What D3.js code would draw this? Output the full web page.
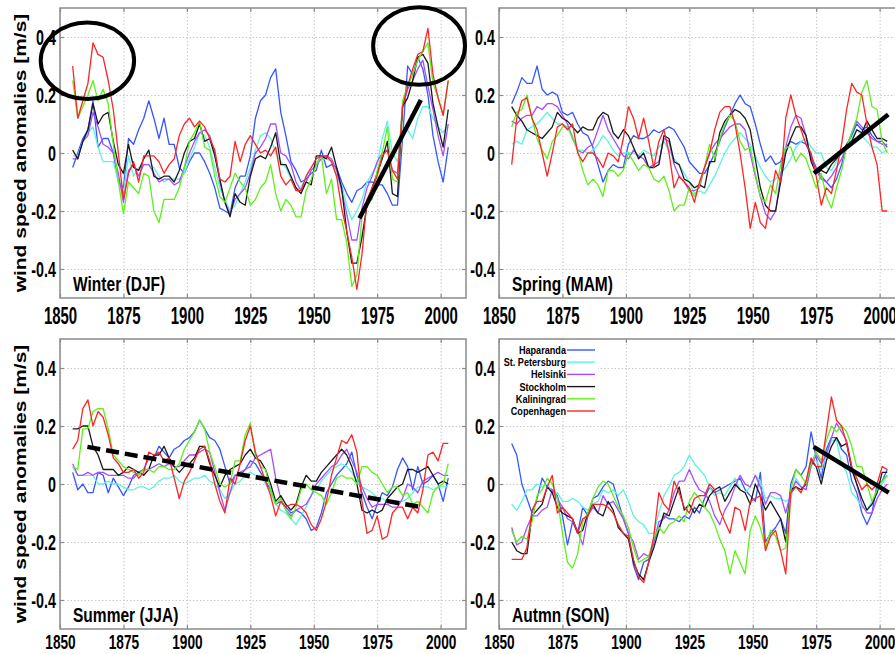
<!DOCTYPE html>
<html>
<head>
<meta charset="utf-8">
<script src="https://cdnjs.cloudflare.com/ajax/libs/d3/7.8.5/d3.min.js"></script>
<style>
	body { margin: 0; background: #ffffff; }
	svg text { font-family: "Liberation Sans", Arial, sans-serif; font-weight: bold; fill: #000000; }
</style>
</head>
<body>
<div id="containerChart"></div>
<script>

// years of the smoothed series (read every second year)
var years = [1855, 1857, 1859, 1861, 1863, 1865, 1867, 1869, 1871, 1873,
	1875, 1877, 1879, 1881, 1883, 1885, 1887, 1889, 1891, 1893,
	1895, 1897, 1899, 1901, 1903, 1905, 1907, 1909, 1911, 1913,
	1915, 1917, 1919, 1921, 1923, 1925, 1927, 1929, 1931, 1933,
	1935, 1937, 1939, 1941, 1943, 1945, 1947, 1949, 1951, 1953,
	1955, 1957, 1959, 1961, 1963, 1965, 1967, 1969, 1971, 1973,
	1975, 1977, 1979, 1981, 1983, 1985, 1987, 1989, 1991, 1993,
	1995, 1997, 1999, 2001, 2003];

var stations = ["Haparanda", "St. Petersburg", "Helsinki", "Stockholm", "Kaliningrad", "Copenhagen"];
var seasons = ["Winter (DJF)", "Spring (MAM)", "Summer (JJA)", "Autmn (SON)"];
var xTickValues = [1850, 1875, 1900, 1925, 1950, 1975, 2000];
var yTickValues = [-0.4, -0.2, 0, 0.2, 0.4];
var yTickLabels = ["-0.4", "-0.2", "0", "0.2", "0.4"];

// winter (DJF) anomalies [m/s]
var winterHaparanda = [-0.05, 0.00, 0.05, 0.08, 0.18, 0.02, 0.05, 0.05, 0.00, -0.10,
	-0.12, 0.05, 0.03, 0.08, 0.12, 0.18, 0.12, 0.05, 0.12, 0.03,
	0.03, -0.05, -0.07, -0.03, 0.00, 0.00, -0.03, -0.07, -0.12, -0.19,
	-0.20, -0.21, -0.12, -0.08, -0.08, -0.01, 0.12, 0.18, 0.20, 0.26,
	0.29, 0.14, 0.06, -0.03, -0.06, -0.10, -0.09, -0.07, -0.06, 0.01,
	-0.05, -0.04, -0.05, -0.10, -0.14, -0.17, -0.13, -0.12, -0.10, -0.10,
	-0.11, -0.11, -0.14, -0.18, -0.18, 0.05, 0.30, 0.27, 0.33, 0.29,
	0.20, 0.06, -0.03, -0.10, 0.02];
var winterStPetersburg = [-0.01, -0.01, 0.04, 0.07, 0.09, 0.02, -0.03, -0.03, -0.03, -0.10,
	-0.14, -0.01, -0.08, -0.05, -0.04, -0.04, -0.05, -0.08, -0.10, -0.09,
	-0.09, -0.09, -0.07, -0.02, 0.02, 0.07, 0.06, 0.02, -0.05, -0.12,
	-0.16, -0.20, -0.18, -0.14, -0.10, -0.05, 0.01, 0.06, 0.07, 0.05,
	0.00, -0.03, -0.05, -0.09, -0.13, -0.12, -0.08, -0.05, -0.03, -0.02,
	-0.02, -0.03, -0.08, -0.11, -0.18, -0.23, -0.20, -0.16, -0.10, -0.07,
	-0.04, 0.05, 0.11, 0.00, -0.03, 0.06, 0.08, 0.05, 0.12, 0.16,
	0.16, 0.12, 0.09, 0.07, 0.10];
var winterHelsinki = [-0.02, -0.02, 0.04, 0.06, 0.14, 0.09, 0.03, 0.02, 0.00, -0.07,
	-0.17, -0.06, -0.04, -0.08, -0.04, -0.04, -0.07, -0.10, -0.09, -0.09,
	-0.11, -0.10, -0.05, 0.00, 0.04, 0.07, 0.08, 0.06, 0.00, -0.10,
	-0.17, -0.21, -0.16, -0.14, -0.12, -0.07, 0.00, 0.02, 0.05, 0.10,
	0.10, 0.00, -0.01, -0.04, -0.10, -0.13, -0.10, -0.06, -0.04, -0.02,
	-0.01, -0.02, -0.06, -0.13, -0.21, -0.30, -0.30, -0.19, -0.12, -0.08,
	-0.03, 0.00, 0.01, -0.06, -0.07, 0.16, 0.22, 0.25, 0.29, 0.32,
	0.23, 0.15, 0.06, -0.01, 0.10];
var winterStockholm = [0.01, -0.02, 0.04, 0.08, 0.17, 0.10, 0.13, 0.14, 0.04, -0.04,
	-0.07, 0.03, -0.05, -0.06, -0.02, 0.01, -0.08, -0.09, -0.08, -0.08,
	-0.10, -0.06, 0.00, 0.04, 0.05, 0.10, 0.04, 0.05, -0.01, -0.09,
	-0.17, -0.22, -0.14, -0.17, -0.18, -0.08, -0.02, -0.01, -0.02, 0.02,
	0.07, -0.04, -0.04, -0.08, -0.12, -0.14, -0.10, -0.11, -0.01, -0.01,
	-0.02, 0.02, -0.05, -0.12, -0.27, -0.38, -0.38, -0.29, -0.18, -0.12,
	-0.07, -0.02, 0.04, -0.14, -0.15, 0.16, 0.19, 0.25, 0.33, 0.34,
	0.31, 0.17, 0.09, 0.02, 0.15];
var winterKaliningrad = [0.25, 0.12, 0.16, 0.20, 0.25, 0.18, 0.22, 0.17, 0.03, -0.10,
	-0.21, -0.10, -0.12, -0.14, -0.07, -0.08, -0.20, -0.24, -0.16, -0.16,
	-0.16, -0.12, -0.05, 0.04, 0.07, 0.11, 0.02, 0.01, -0.08, -0.15,
	-0.17, -0.12, -0.07, -0.10, -0.12, -0.18, -0.16, -0.12, -0.10, -0.04,
	-0.14, -0.20, -0.16, -0.18, -0.22, -0.22, -0.13, -0.09, -0.04, -0.01,
	-0.14, -0.09, -0.23, -0.23, -0.31, -0.46, -0.42, -0.22, -0.17, -0.16,
	-0.06, 0.00, 0.09, -0.09, -0.10, 0.18, 0.23, 0.27, 0.32, 0.35,
	0.38, 0.24, 0.19, 0.13, 0.25];
var winterCopenhagen = [0.30, 0.12, 0.18, 0.24, 0.38, 0.34, 0.33, 0.25, 0.15, 0.00,
	-0.16, -0.07, -0.03, -0.10, -0.01, -0.01, -0.01, -0.03, -0.07, -0.04,
	-0.02, 0.06, 0.10, 0.12, 0.09, 0.11, 0.09, 0.05, 0.01, -0.09,
	-0.10, -0.08, 0.04, -0.03, 0.03, 0.06, 0.03, 0.00, 0.01, -0.01,
	0.02, -0.08, -0.11, -0.09, -0.13, -0.13, -0.08, -0.05, -0.02, -0.01,
	-0.01, -0.03, -0.08, -0.19, -0.27, -0.36, -0.47, -0.35, -0.16, -0.12,
	-0.08, -0.01, 0.01, -0.06, -0.09, 0.16, 0.23, 0.29, 0.34, 0.35,
	0.43, 0.27, 0.19, 0.13, 0.25];

// spring (MAM)
var springHaparanda = [0.17, 0.21, 0.26, 0.24, 0.24, 0.30, 0.22, 0.20, 0.21, 0.20,
	0.14, 0.13, 0.14, 0.10, 0.07, 0.06, 0.02, -0.04, -0.10, -0.06,
	-0.04, -0.05, -0.05, 0.03, 0.06, 0.05, 0.05, 0.06, 0.08, 0.07,
	0.08, 0.09, 0.08, 0.05, 0.02, -0.03, -0.05, -0.07, -0.07, -0.04,
	0.00, 0.04, 0.09, 0.13, 0.17, 0.20, 0.17, 0.16, 0.10, 0.03,
	-0.03, -0.01, -0.04, -0.03, 0.02, 0.04, 0.03, 0.04, 0.03, -0.01,
	-0.05, -0.08, -0.10, -0.12, -0.09, -0.04, 0.03, 0.06, 0.10, 0.08,
	0.09, 0.06, 0.04, 0.04, 0.02];
var springStPetersburg = [0.03, 0.04, 0.03, 0.08, 0.09, 0.10, 0.12, 0.14, 0.12, 0.10,
	0.10, 0.09, 0.06, 0.01, 0.01, 0.00, 0.01, 0.03, 0.06, 0.04,
	0.01, -0.01, 0.00, 0.00, 0.00, -0.01, 0.01, 0.00, -0.01, 0.02,
	0.04, 0.01, -0.02, -0.04, -0.07, -0.10, -0.14, -0.13, -0.14, -0.11,
	-0.08, -0.04, 0.00, 0.03, 0.05, 0.07, 0.05, 0.03, -0.01, -0.05,
	-0.08, -0.10, -0.09, -0.07, -0.05, -0.02, 0.02, 0.04, 0.05, 0.02,
	0.00, 0.00, -0.05, -0.06, -0.03, 0.00, 0.02, 0.05, 0.08, 0.06,
	0.04, 0.02, 0.02, 0.00, 0.01];
var springHelsinki = [0.11, 0.10, 0.12, 0.13, 0.13, 0.16, 0.15, 0.17, 0.17, 0.16,
	0.13, 0.10, 0.05, 0.01, 0.00, 0.02, 0.03, 0.08, 0.13, 0.08,
	0.05, 0.02, -0.01, -0.02, 0.01, -0.01, -0.02, -0.05, -0.04, -0.03,
	0.05, 0.04, -0.04, -0.08, -0.10, -0.13, -0.13, -0.12, -0.05, 0.00,
	0.03, 0.05, 0.07, 0.09, 0.10, 0.10, 0.08, 0.00, -0.08, -0.15,
	-0.21, -0.23, -0.20, -0.08, 0.02, 0.09, 0.13, 0.12, 0.06, -0.02,
	-0.06, -0.09, -0.10, -0.08, -0.05, -0.02, 0.02, 0.07, 0.11, 0.09,
	0.07, 0.05, 0.04, 0.03, 0.03];
var springStockholm = [0.16, 0.13, 0.11, 0.08, 0.07, 0.06, 0.05, 0.07, 0.09, 0.14,
	0.12, 0.11, 0.09, 0.07, 0.09, 0.08, 0.08, 0.12, 0.14, 0.13,
	0.07, 0.05, 0.08, 0.06, 0.02, -0.02, 0.00, -0.05, -0.05, -0.04,
	0.06, 0.05, -0.03, -0.04, -0.09, -0.10, -0.12, -0.11, -0.12, -0.03,
	-0.03, 0.07, 0.11, 0.13, 0.15, 0.14, 0.12, 0.08, -0.02, -0.12,
	-0.18, -0.20, -0.20, -0.10, 0.00, 0.05, 0.09, 0.09, 0.06, -0.03,
	-0.07, -0.06, -0.07, -0.04, -0.02, 0.00, 0.03, 0.04, 0.08, 0.07,
	0.11, 0.08, 0.05, 0.05, 0.04];
var springKaliningrad = [0.09, 0.14, 0.15, 0.20, 0.12, 0.05, 0.01, -0.02, 0.04, 0.06,
	0.09, 0.09, 0.05, 0.01, -0.06, -0.11, -0.09, -0.11, -0.15, -0.06,
	-0.06, -0.08, -0.06, 0.00, -0.03, -0.06, -0.04, -0.05, -0.09, -0.10,
	-0.08, -0.13, -0.20, -0.18, -0.18, -0.12, -0.15, -0.11, -0.05, 0.03,
	-0.02, 0.05, 0.10, 0.13, 0.11, 0.04, 0.01, 0.02, -0.07, -0.15,
	-0.17, -0.11, -0.14, -0.04, 0.02, 0.02, -0.03, 0.00, -0.02, -0.07,
	-0.12, -0.07, -0.15, -0.19, -0.12, -0.06, 0.02, 0.07, 0.12, 0.21,
	0.25, 0.16, 0.15, 0.04, 0.00];
var springCopenhagen = [-0.04, 0.12, 0.18, 0.19, 0.12, 0.08, 0.00, -0.08, 0.00, 0.09,
	0.10, 0.08, 0.10, 0.00, -0.03, 0.00, 0.00, -0.02, -0.05, 0.00,
	-0.01, -0.03, 0.05, 0.16, 0.12, 0.05, 0.12, 0.04, -0.05, 0.04,
	0.08, 0.00, -0.12, -0.08, -0.10, -0.12, -0.17, -0.10, -0.05, 0.00,
	0.08, 0.14, 0.16, 0.16, 0.10, 0.00, -0.12, -0.26, -0.17, -0.24,
	-0.26, -0.16, -0.06, -0.10, 0.12, 0.20, 0.13, 0.08, 0.03, 0.00,
	-0.08, -0.18, -0.12, -0.14, -0.06, 0.03, 0.15, 0.24, 0.21, 0.20,
	0.10, 0.02, -0.04, -0.20, -0.20];

// summer (JJA)
var summerHaparanda = [0.04, -0.02, 0.00, -0.03, -0.03, 0.04, 0.03, -0.03, 0.02, -0.01,
	-0.04, -0.01, 0.03, 0.04, 0.05, 0.09, 0.09, 0.13, 0.11, 0.09,
	0.12, 0.13, 0.15, 0.16, 0.18, 0.22, 0.19, 0.16, 0.15, 0.12,
	0.06, 0.00, 0.03, 0.03, 0.05, 0.08, 0.07, 0.04, 0.01, -0.02,
	-0.07, -0.06, -0.08, -0.10, -0.09, -0.10, -0.12, -0.16, -0.15, -0.10,
	-0.03, 0.00, 0.03, 0.05, 0.07, 0.11, 0.03, -0.03, -0.08, -0.12,
	-0.07, -0.03, -0.04, -0.01, 0.05, 0.09, 0.06, -0.02, 0.06, 0.00,
	0.01, 0.03, 0.00, -0.06, 0.02];
var summerStPetersburg = [0.06, 0.03, 0.03, 0.03, 0.03, 0.00, 0.00, 0.01, 0.00, 0.00,
	-0.01, -0.02, -0.02, -0.01, -0.01, -0.02, -0.01, 0.01, 0.02, 0.02,
	0.03, 0.01, 0.00, 0.01, 0.02, 0.02, 0.03, 0.01, 0.00, -0.02,
	-0.05, -0.03, 0.00, 0.01, 0.03, 0.04, 0.03, 0.03, 0.00, -0.03,
	-0.07, -0.09, -0.10, -0.12, -0.14, -0.11, -0.08, -0.04, -0.02, 0.01,
	0.03, 0.05, 0.06, 0.07, 0.06, 0.04, 0.01, -0.01, -0.02, -0.03,
	-0.05, -0.05, -0.06, -0.06, -0.06, -0.06, -0.05, -0.03, -0.01, -0.01,
	-0.01, -0.02, -0.01, -0.01, -0.01];
var summerHelsinki = [0.07, 0.03, 0.03, 0.04, 0.03, 0.04, 0.04, 0.03, 0.03, 0.03,
	0.03, 0.02, 0.02, 0.04, 0.05, 0.05, 0.06, 0.07, 0.06, 0.07,
	0.06, 0.06, 0.08, 0.10, 0.10, 0.11, 0.12, 0.11, 0.04, -0.03,
	-0.09, -0.03, 0.03, 0.04, 0.05, 0.06, 0.09, 0.10, 0.11, 0.12,
	0.02, -0.05, -0.09, -0.11, -0.09, -0.08, -0.07, -0.04, 0.00, 0.02,
	0.04, 0.06, 0.07, 0.10, 0.12, 0.08, 0.04, -0.01, -0.05, -0.08,
	-0.07, -0.07, -0.07, -0.08, -0.08, -0.05, 0.00, -0.01, -0.03, 0.01,
	0.02, 0.03, 0.04, 0.03, 0.03];
var summerStockholm = [0.19, 0.19, 0.20, 0.20, 0.13, 0.10, 0.05, 0.05, 0.05, 0.03,
	0.04, 0.06, 0.05, 0.04, 0.03, 0.05, 0.10, 0.10, 0.13, 0.09,
	0.06, 0.04, 0.06, 0.07, 0.09, 0.13, 0.13, 0.07, 0.03, -0.01,
	0.03, 0.05, 0.06, 0.07, 0.10, 0.12, 0.09, 0.08, 0.05, 0.00,
	-0.06, -0.04, -0.07, -0.09, -0.07, -0.01, 0.03, 0.01, 0.01, 0.04,
	0.06, 0.08, 0.10, 0.12, 0.10, 0.06, 0.00, -0.09, -0.10, -0.09,
	-0.10, -0.09, -0.05, -0.03, -0.01, 0.00, 0.05, 0.05, 0.04, 0.05,
	0.06, 0.03, 0.00, 0.01, 0.00];
var summerKaliningrad = [0.06, 0.05, 0.19, 0.19, 0.25, 0.26, 0.26, 0.19, 0.10, 0.08,
	0.06, 0.05, 0.04, 0.03, 0.05, 0.05, 0.04, 0.06, 0.06, 0.05,
	0.05, 0.07, 0.12, 0.15, 0.18, 0.22, 0.19, 0.11, 0.06, 0.00,
	-0.01, 0.00, 0.08, 0.08, 0.17, 0.21, 0.10, 0.06, 0.05, -0.02,
	-0.07, -0.05, -0.09, -0.12, -0.08, -0.02, 0.00, -0.02, -0.03, -0.04,
	-0.07, -0.03, 0.02, 0.03, 0.02, 0.02, 0.00, 0.06, 0.06, 0.04,
	0.03, 0.00, -0.03, -0.01, -0.01, -0.04, -0.03, -0.07, -0.06, -0.08,
	-0.10, -0.03, -0.01, 0.00, 0.07];
var summerCopenhagen = [0.12, 0.15, 0.26, 0.29, 0.20, 0.25, 0.23, 0.17, 0.09, 0.07,
	0.04, 0.04, 0.05, 0.02, 0.04, 0.11, 0.10, 0.11, 0.08, 0.09,
	0.02, -0.05, 0.01, 0.04, 0.08, 0.12, 0.13, 0.08, 0.00, -0.06,
	-0.10, 0.02, 0.00, 0.07, 0.15, 0.20, 0.11, 0.06, 0.01, -0.04,
	-0.11, -0.06, -0.08, -0.07, -0.07, -0.08, -0.10, -0.14, -0.16, -0.12,
	-0.06, 0.03, 0.09, 0.15, 0.14, 0.17, 0.11, -0.06, -0.17, -0.16,
	-0.11, -0.19, -0.18, -0.10, -0.08, -0.08, -0.12, -0.08, -0.10, -0.02,
	0.10, 0.11, 0.08, 0.14, 0.14];

// autumn (SON)
var autumnHaparanda = [0.14, 0.10, 0.00, -0.05, -0.10, -0.05, 0.02, -0.01, -0.02, -0.04,
	-0.11, -0.21, -0.13, -0.17, -0.08, -0.11, -0.05, -0.04, -0.01, 0.01,
	0.00, -0.06, -0.12, -0.17, -0.28, -0.33, -0.27, -0.26, -0.20, -0.15,
	-0.11, -0.12, -0.12, -0.13, -0.11, -0.12, -0.08, -0.10, -0.05, -0.01,
	-0.03, -0.02, -0.01, 0.00, 0.01, 0.02, -0.02, -0.04, -0.06, 0.04,
	-0.20, -0.17, -0.15, -0.12, -0.17, 0.00, 0.05, 0.03, 0.06, 0.18,
	0.09, 0.02, 0.12, 0.16, 0.16, 0.12, 0.10, 0.01, -0.03, -0.10,
	-0.14, -0.10, 0.00, 0.01, 0.05];
var autumnStPetersburg = [-0.07, -0.09, -0.06, -0.02, -0.02, 0.00, -0.01, 0.00, -0.03, -0.03,
	-0.06, -0.06, -0.05, -0.06, -0.08, -0.09, -0.07, -0.06, -0.02, -0.03,
	-0.02, -0.04, -0.02, -0.06, -0.11, -0.13, -0.14, -0.17, -0.17, -0.10,
	-0.04, -0.01, 0.03, 0.04, 0.06, 0.10, 0.07, 0.05, 0.03, -0.01,
	-0.04, -0.03, -0.04, -0.01, 0.02, -0.02, -0.03, -0.01, 0.03, 0.01,
	-0.05, -0.04, -0.05, -0.05, -0.06, -0.05, 0.02, -0.01, -0.02, 0.08,
	0.08, 0.05, 0.10, 0.15, 0.15, 0.07, 0.04, -0.03, -0.05, -0.08,
	-0.09, -0.06, -0.03, 0.00, 0.03];
var autumnHelsinki = [-0.15, -0.21, -0.20, -0.15, -0.11, -0.11, -0.09, -0.08, -0.02, -0.05,
	-0.08, -0.12, -0.13, -0.16, -0.21, -0.11, -0.08, -0.10, -0.04, -0.07,
	-0.06, -0.09, -0.12, -0.17, -0.20, -0.26, -0.24, -0.25, -0.20, -0.13,
	-0.12, -0.09, -0.03, 0.01, 0.01, 0.05, 0.01, -0.02, -0.03, -0.06,
	-0.11, -0.14, -0.09, -0.06, -0.01, 0.03, 0.00, -0.01, 0.03, -0.01,
	-0.07, -0.03, -0.03, -0.04, -0.10, -0.03, 0.01, -0.01, -0.02, 0.06,
	0.10, 0.07, 0.10, 0.16, 0.21, 0.18, 0.15, 0.06, 0.00, -0.07,
	-0.10, -0.10, -0.05, -0.02, 0.00];
var autumnStockholm = [-0.20, -0.23, -0.24, -0.24, -0.11, -0.09, -0.07, -0.01, -0.03, -0.08,
	-0.10, -0.11, -0.12, -0.17, -0.16, -0.10, -0.07, -0.10, -0.11, -0.06,
	-0.09, -0.15, -0.17, -0.19, -0.27, -0.31, -0.33, -0.27, -0.22, -0.16,
	-0.10, -0.11, -0.06, -0.01, -0.09, -0.07, -0.10, -0.07, -0.08, -0.04,
	-0.02, -0.01, -0.06, -0.03, 0.00, -0.02, -0.03, -0.07, 0.00, -0.04,
	-0.09, -0.06, -0.09, -0.12, -0.20, -0.02, -0.01, -0.02, 0.00, 0.08,
	0.06, 0.00, 0.08, 0.13, 0.16, 0.13, 0.14, 0.05, 0.00, -0.05,
	-0.09, -0.07, -0.03, 0.04, 0.04];
var autumnKaliningrad = [-0.16, -0.20, -0.18, -0.19, -0.13, -0.04, -0.02, 0.02, 0.00, -0.05,
	-0.17, -0.27, -0.29, -0.24, -0.13, -0.10, -0.05, -0.01, 0.01, 0.00,
	-0.04, -0.08, -0.11, -0.15, -0.22, -0.27, -0.26, -0.25, -0.19, -0.15,
	-0.17, -0.14, -0.13, -0.11, -0.13, -0.06, -0.03, -0.05, -0.08, -0.10,
	-0.14, -0.19, -0.23, -0.31, -0.23, -0.27, -0.31, -0.16, -0.11, -0.15,
	-0.22, -0.16, -0.18, -0.23, -0.22, -0.02, 0.05, 0.03, 0.00, 0.07,
	0.11, 0.08, 0.15, 0.20, 0.18, 0.20, 0.18, 0.13, 0.06, 0.06,
	0.00, -0.06, -0.02, 0.01, 0.03];
var autumnCopenhagen = [-0.26, -0.26, -0.26, -0.22, -0.09, -0.06, -0.06, -0.01, 0.03, -0.10,
	-0.08, -0.10, -0.12, -0.17, -0.12, -0.11, -0.07, -0.07, -0.07, -0.08,
	-0.10, -0.14, -0.17, -0.18, -0.26, -0.32, -0.34, -0.27, -0.18, -0.03,
	-0.07, -0.09, 0.01, -0.03, -0.08, -0.10, -0.05, -0.04, -0.04, 0.00,
	-0.02, -0.09, -0.13, -0.17, -0.08, -0.09, -0.16, -0.06, -0.05, -0.04,
	-0.23, -0.18, -0.16, -0.23, -0.31, -0.03, -0.01, -0.03, 0.01, 0.09,
	0.06, 0.06, 0.18, 0.30, 0.22, 0.20, 0.14, 0.06, 0.02, -0.02,
	0.00, -0.02, 0.00, 0.06, 0.05];

// trend lines drawn over the panels: [year, anomaly] at both ends
var winterTrend = [[1968.0, -0.225], [1992.2, 0.183]];
var springTrend = [[1974.1, -0.070], [2003.4, 0.133]];
var summerTrend = [[1860.8, 0.128], [1991.9, -0.079]];
var autumnTrend = [[1974.0, 0.128], [2003.6, -0.030]];

// circled periods in winter: centre year, centre anomaly, half width (years), half height (m/s)
var winterCircles = [[1860.8, 0.318, 18.4, 0.132], [1991.5, 0.369, 18.1, 0.134]];

var seasonData = [
	[winterHaparanda, winterStPetersburg, winterHelsinki, winterStockholm, winterKaliningrad, winterCopenhagen],
	[springHaparanda, springStPetersburg, springHelsinki, springStockholm, springKaliningrad, springCopenhagen],
	[summerHaparanda, summerStPetersburg, summerHelsinki, summerStockholm, summerKaliningrad, summerCopenhagen],
	[autumnHaparanda, autumnStPetersburg, autumnHelsinki, autumnStockholm, autumnKaliningrad, autumnCopenhagen]
];
var seasonTrends = [winterTrend, springTrend, summerTrend, autumnTrend];

// colours per station, same order as stations
var stationColors = ["#3557ff", "#5ef2e0", "#a64dff", "#1a1a1a", "#5ef01a", "#ff2424"];

// characteristics for SVG element
var width = 895;
var height = 654;
var panelWidth = 406;
var panelHeight = 290;
var layout = [{left: 60, top: 8}, {left: 499, top: 8}, {left: 60, top: 339}, {left: 499, top: 339}];

var svg = d3.select("#containerChart")
	.append("svg")
	.attr("width", width)
	.attr("height", height);

// text squeezed sideways like in the original figure
function squeezed(g, x, y, str, size, sx, anchor) {
	return g.append("text")
		.attr("transform", "translate(" + x + "," + y + ") scale(" + sx + ",1)")
		.attr("text-anchor", anchor)
		.style("font-size", size + "px")
		.text(str);
};

// function that draws one season panel
function drawPanel(p) {

	var box = layout[p];
	var g = svg.append("g")
		.attr("transform", "translate(" + box.left + "," + box.top + ")");

	var x = d3.scaleLinear().domain([1850, 2010]).range([0, panelWidth]);
	var y = d3.scaleLinear().domain([-0.5, 0.5]).range([panelHeight, 0]);

	// dotted grid
	g.append("g")
		.attr("class", "grid")
		.attr("transform", "translate(0," + panelHeight + ")")
		.call(d3.axisBottom(x).tickValues(xTickValues).tickSize(-panelHeight).tickFormat(""));
	g.append("g")
		.attr("class", "grid")
		.call(d3.axisLeft(y).tickValues(yTickValues).tickSize(-panelWidth).tickFormat(""));
	g.selectAll(".grid .domain").remove();
	g.selectAll(".grid line")
		.attr("stroke", "#c8c8c8")
		.attr("stroke-width", 1)
		.attr("stroke-dasharray", "1.5,2");

	// clip for the series
	g.append("clipPath")
		.attr("id", "clip" + p)
		.append("rect")
		.attr("width", panelWidth)
		.attr("height", panelHeight);

	var line = d3.line()
		.x(function(d, i) { return x(years[i]); })
		.y(function(d) { return y(d); });

	g.append("g")
		.attr("clip-path", "url(#clip" + p + ")")
		.selectAll("path")
		.data(seasonData[p])
		.enter()
		.append("path")
		.attr("d", line)
		.attr("fill", "none")
		.attr("stroke", function(d, i) { return stationColors[i]; })
		.attr("stroke-width", 1.3)
		.attr("stroke-linejoin", "round");

	// frame and small inner ticks
	g.append("rect")
		.attr("width", panelWidth)
		.attr("height", panelHeight)
		.attr("fill", "none")
		.attr("stroke", "#8a8a8a")
		.attr("stroke-width", 1.5);

	var innerTicks = [
		[d3.axisLeft(y).tickValues(yTickValues), "translate(0,0)"],
		[d3.axisRight(y).tickValues(yTickValues), "translate(" + panelWidth + ",0)"],
		[d3.axisBottom(x).tickValues(xTickValues), "translate(0," + panelHeight + ")"],
		[d3.axisTop(x).tickValues(xTickValues), "translate(0,0)"]
	];
	innerTicks.forEach(function(t) {
		var a = g.append("g")
			.attr("class", "inner")
			.attr("transform", t[1])
			.call(t[0].tickSize(-4).tickFormat(""));
		a.select(".domain").remove();
		a.selectAll("line").attr("stroke", "#8a8a8a").attr("stroke-width", 1.2);
	});

	// tick labels (bottom row sits closer to the frame, the page ends there)
	var sx = 0.65;
	var lowRow = box.top > 100;
	var yAxis = g.append("g")
		.attr("class", "axis")
		.call(d3.axisLeft(y)
			.tickValues(yTickValues)
			.tickFormat(function(d, i) { return yTickLabels[i]; })
			.tickSize(0)
			.tickPadding(4 / sx));
	var xAxis = g.append("g")
		.attr("class", "axis")
		.attr("transform", "translate(0," + panelHeight + ")")
		.call(d3.axisBottom(x)
			.tickValues(xTickValues)
			.tickFormat(d3.format("d"))
			.tickSize(0)
			.tickPadding(lowRow ? 5 : 10));
	g.selectAll(".axis .domain").remove();
	yAxis.attr("font-size", null).attr("font-family", null);
	xAxis.attr("font-size", null).attr("font-family", null);
	yAxis.selectAll("text")
		.style("font-size", "22px")
		.attr("transform", "scale(" + sx + ",1)");
	xAxis.selectAll("text")
		.style("font-size", lowRow ? "21px" : "23px")
		.attr("transform", "scale(" + sx + ",1)");

	// season label
	squeezed(g, 13, panelHeight - 7, seasons[p], 21, 0.74, "start");

	// axis title on the left panels
	if (box.left < 100) {
		svg.append("text")
			.attr("transform", "translate(26," + (box.top + panelHeight / 2) + ") rotate(-90) scale(1,0.82)")
			.attr("text-anchor", "middle")
			.style("font-size", "21px")
			.text("wind speed anomalies [m/s]");
	};

	// trend line
	var trend = seasonTrends[p];
	g.append("line")
		.attr("x1", x(trend[0][0]))
		.attr("y1", y(trend[0][1]))
		.attr("x2", x(trend[1][0]))
		.attr("y2", y(trend[1][1]))
		.attr("stroke", "#000")
		.attr("stroke-width", 4.5)
		.attr("stroke-dasharray", p == 2 ? "13,6" : null);

	// circles in the winter panel
	if (p == 0) {
		g.selectAll("ellipse")
			.data(winterCircles)
			.enter()
			.append("ellipse")
			.attr("cx", function(d) { return x(d[0]); })
			.attr("cy", function(d) { return y(d[1]); })
			.attr("rx", function(d) { return x(d[0] + d[2]) - x(d[0]); })
			.attr("ry", function(d) { return y(0) - y(d[3]); })
			.attr("fill", "none")
			.attr("stroke", "#000")
			.attr("stroke-width", 4);
	};

	// legend in the autumn panel
	if (p == 3) {
		addLegend(g);
	};
};

// function to add a legend
function addLegend(g) {

	g.append("rect")
		.attr("x", 1)
		.attr("y", 1)
		.attr("width", 98)
		.attr("height", 78)
		.attr("fill", "#ffffff");

	var rows = g.selectAll(".legendRow")
		.data(stations)
		.enter()
		.append("g")
		.attr("class", "legendRow")
		.attr("transform", function(d, i) { return "translate(0," + (11 + i * 12.2) + ")"; });

	rows.append("line")
		.attr("x1", 68)
		.attr("x2", 96)
		.attr("stroke", function(d, i) { return stationColors[i]; })
		.attr("stroke-width", 1.4);

	rows.each(function(d) {
		squeezed(d3.select(this), 67, 4, d, 11, 0.83, "end");
	});
};

for (var p = 0; p < 4; p ++) {
	drawPanel(p);
};

</script>
</body>
</html>
